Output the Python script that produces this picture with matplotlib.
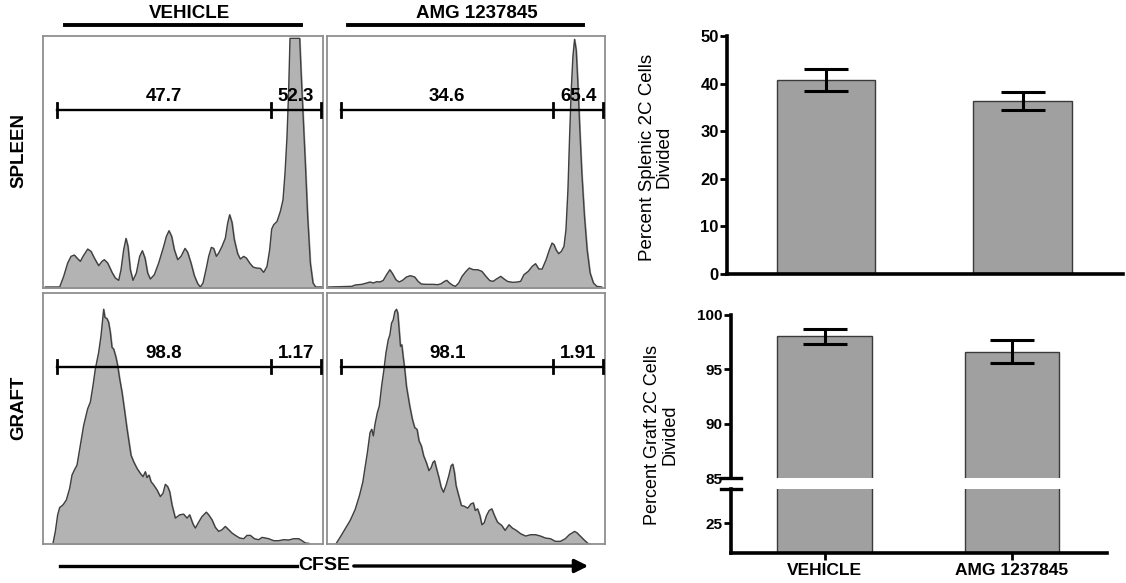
import matplotlib
matplotlib.use("Agg")
import matplotlib.pyplot as plt
from matplotlib.lines import Line2D
from matplotlib.patches import FancyArrowPatch
import numpy as np

plt.rcParams['font.family'] = ['Liberation Sans', 'DejaVu Sans']

# ---- CFSE histograms (x: CFSE channel, arbitrary units; y: cell count, arbitrary units)
spleen_veh_x = [7, 50, 62, 74, 84, 94, 102, 112, 120, 134, 144, 154, 167, 177, 184, 194, 207, 217, 227, 234,
                242, 249, 255, 262, 270, 280, 290, 298, 306, 314, 322, 334, 347, 362, 370, 378, 386, 394, 404,
                414, 426, 434, 444, 454, 464, 472, 480, 490, 497, 505, 512, 520, 527, 537, 547, 554, 560, 567,
                574, 584, 592, 602, 610, 620, 630, 640, 652, 662, 672, 680, 686, 692, 702, 712, 720, 726, 732,
                737, 741, 770, 774, 780, 787, 794, 802, 810, 818, 837]
spleen_veh_y = [3, 3, 35, 75, 95, 99, 90, 80, 95, 117, 110, 90, 67, 80, 85, 75, 47, 30, 23, 55,
                115, 149, 125, 55, 23, 45, 95, 112, 90, 45, 27, 40, 75, 125, 155, 172, 155, 115, 85,
                95, 119, 107, 75, 37, 13, 3, 15, 60, 95, 122, 119, 95, 105, 125, 150, 195, 220, 197,
                145, 103, 87, 95, 90, 75, 63, 60, 59, 47, 65, 115, 177, 190, 200, 230, 265, 345, 455,
                595, 750, 750, 655, 525, 375, 215, 75, 15, 3, 3]

spleen_amg_x = [5, 75, 85, 105, 120, 130, 140, 150, 160, 170, 180, 190, 198, 208, 218, 228, 240, 252, 265, 275,
                285, 300, 320, 335, 345, 355, 362, 370, 380, 388, 398, 408, 420, 430, 442, 455, 468, 480, 492,
                502, 512, 525, 535, 545, 560, 575, 585, 595, 608, 620, 630, 640, 650, 662, 672, 680, 686, 692,
                700, 708, 716, 722, 728, 733, 738, 743, 748, 753, 758, 764, 770, 778, 786, 795, 805, 815, 830]
spleen_amg_y = [3, 5, 9, 11, 15, 18, 15, 19, 18, 23, 40, 55, 43, 25, 18, 23, 33, 37, 33, 20,
                12, 11, 11, 10, 13, 20, 23, 15, 8, 5, 15, 35, 50, 60, 55, 55, 50, 35, 22,
                20, 27, 35, 27, 20, 17, 18, 20, 40, 50, 65, 73, 57, 57, 85, 115, 135, 130, 115,
                103, 110, 125, 175, 295, 455, 595, 695, 747, 715, 615, 475, 345, 215, 115, 45, 15, 5, 3]

graft_veh_x = [30, 37, 44, 50, 60, 70, 80, 87, 94, 102, 112, 122, 134, 142, 150, 157, 167, 174, 179, 182,
               186, 192, 197, 202, 207, 212, 219, 224, 230, 237, 244, 252, 258, 264, 272, 282, 292, 300, 307,
               312, 318, 324, 332, 342, 352, 360, 367, 374, 380, 387, 397, 410, 422, 432, 440, 450, 457, 467,
               477, 490, 497, 507, 517, 527, 537, 547, 557, 567, 577, 590, 602, 612, 622, 634, 647, 657, 667,
               677, 692, 707, 722, 737, 752, 767, 777, 787, 797]
graft_veh_y = [2, 38, 88, 110, 118, 133, 168, 208, 223, 238, 298, 358, 408, 428, 478, 528, 578, 628, 678, 708,
               683, 680, 668, 638, 593, 588, 563, 538, 498, 458, 408, 348, 308, 268, 248, 228, 213, 203, 218,
               200, 208, 188, 178, 163, 143, 153, 180, 173, 158, 118, 78, 88, 90, 78, 88, 60, 48, 66,
               83, 96, 88, 73, 50, 38, 43, 53, 43, 33, 26, 18, 16, 26, 26, 16, 13, 20, 18,
               16, 10, 10, 13, 12, 16, 16, 10, 3, 2]

graft_amg_x = [28, 40, 55, 70, 85, 98, 108, 115, 122, 130, 135, 140, 145, 152, 158, 165, 172, 178, 185, 190,
               195, 200, 205, 210, 214, 218, 222, 226, 230, 235, 240, 245, 250, 258, 265, 272, 278, 285, 292,
               300, 308, 315, 320, 325, 330, 338, 345, 352, 360, 368, 375, 380, 385, 390, 398, 406, 415, 425,
               435, 442, 448, 455, 462, 468, 475, 482, 490, 498, 505, 515, 528, 538, 550, 560, 572, 585, 600,
               615, 630, 645, 660, 675, 690, 705, 720, 732, 748, 755, 765, 775, 788, 795]
graft_amg_y = [2, 21, 46, 71, 104, 146, 186, 231, 276, 336, 346, 326, 361, 396, 416, 476, 526, 576, 616, 631,
               666, 676, 701, 708, 696, 646, 596, 601, 566, 526, 476, 446, 416, 376, 351, 346, 311, 296, 266,
               246, 221, 231, 246, 251, 231, 201, 171, 156, 178, 206, 236, 241, 216, 176, 146, 116, 114, 108,
               121, 124, 101, 106, 86, 58, 64, 86, 101, 106, 88, 66, 56, 41, 58, 48, 41, 31, 24,
               28, 28, 24, 18, 16, 8, 8, 16, 28, 38, 34, 24, 14, 2, 0]

# gates: [left, split, right] on the CFSE channel, and the percentages in each gate
gate_edges = [42, 684, 834]
gate_level = 535
spleen_pct = [['47.7', '52.3'], ['34.6', '65.4']]
graft_pct = [['98.8', '1.17'], ['98.1', '1.91']]

# ---- bar charts
groups = ['VEHICLE', 'AMG 1237845']
spleen_mean = [40.8, 36.3]
spleen_sem = [2.25, 1.9]
graft_mean = [98.03, 96.64]
graft_sem = [0.68, 1.1]

W, H = 1126, 583
fig = plt.figure(figsize=(W / 100, H / 100), dpi=100)


def box(x0, y0, x1, y1):
    # pixel box (top-left origin) -> figure fraction rect
    return [x0 / W, 1 - y1 / H, (x1 - x0) / W, (y1 - y0) / H]


def hist_panel(rect, xs, ys, pct):
    ax = fig.add_axes(rect)
    ax.fill_between(xs, ys, 0, color='#b3b3b3', zorder=1)
    ax.plot(xs, ys, color='#3f3f3f', lw=1.0, zorder=2)
    ax.set_xlim(0, 840)
    ax.set_ylim(0, 757)
    ax.set_xticks([])
    ax.set_yticks([])
    for s in ax.spines.values():
        s.set_color('#8f8f8f')
        s.set_linewidth(1.3)
    ax.plot([gate_edges[0], gate_edges[2]], [gate_level, gate_level], color='black', lw=1.7, zorder=3,
            clip_on=False)
    for gx in gate_edges:
        ax.plot([gx, gx], [gate_level - 20, gate_level + 20], color='black', lw=2.0, zorder=3, clip_on=False)
    ax.text((gate_edges[0] + gate_edges[1]) / 2, gate_level + 14, pct[0], ha='center', va='bottom',
            fontsize=13.5, fontweight='bold', zorder=4)
    ax.text((gate_edges[1] + gate_edges[2]) / 2, gate_level + 14, pct[1], ha='center', va='bottom',
            fontsize=13.5, fontweight='bold', zorder=4)
    return ax


hist_panel(box(43, 36, 323, 288), spleen_veh_x, spleen_veh_y, spleen_pct[0])
hist_panel(box(327, 36, 605, 288), spleen_amg_x, spleen_amg_y, spleen_pct[1])
hist_panel(box(43, 293, 323, 544), graft_veh_x, graft_veh_y, graft_pct[0])
hist_panel(box(327, 293, 605, 544), graft_amg_x, graft_amg_y, graft_pct[1])

# column headers with underline
fig.text(190 / W, 1 - 14 / H, 'VEHICLE', ha='center', va='center', fontsize=13.5, fontweight='bold')
fig.text(477 / W, 1 - 14 / H, 'AMG 1237845', ha='center', va='center', fontsize=13.5, fontweight='bold')
fig.add_artist(Line2D([65 / W, 301 / W], [1 - 25 / H] * 2, color='black', lw=2.8))
fig.add_artist(Line2D([348 / W, 583 / W], [1 - 25 / H] * 2, color='black', lw=2.8))

# row labels
fig.text(19 / W, 1 - 150 / H, 'SPLEEN', rotation=90, ha='center', va='center', fontsize=13.5, fontweight='bold')
fig.text(19 / W, 1 - 408 / H, 'GRAFT', rotation=90, ha='center', va='center', fontsize=13.5, fontweight='bold')

# CFSE arrow
fig.text(324 / W, 1 - 566 / H, 'CFSE', ha='center', va='center', fontsize=14, fontweight='bold')
fig.add_artist(Line2D([60 / W, 297 / W], [1 - 566 / H] * 2, color='black', lw=2.4))
fig.add_artist(FancyArrowPatch((351 / W, 1 - 566 / H), (591 / W, 1 - 566 / H),
                               transform=fig.transFigure, arrowstyle='-|>',
                               mutation_scale=20, lw=2.4, color='black'))

bar_kw = dict(color='#a0a0a0', edgecolor='#3a3a3a', linewidth=1.0, zorder=2)
err_kw = dict(fmt='none', ecolor='black', elinewidth=2.2, capsize=16, capthick=2.2, zorder=3)

# ---- spleen bar chart
ax1 = fig.add_axes(box(727, 36, 1123, 274))
xpos = np.arange(len(groups))
ax1.bar(xpos, spleen_mean, width=0.5, **bar_kw)
ax1.errorbar(xpos, spleen_mean, yerr=spleen_sem, **err_kw)
ax1.set_xlim(-0.504, 1.511)
ax1.set_ylim(0, 50)
ax1.set_yticks([0, 10, 20, 30, 40, 50])
ax1.set_xticks([])
for s in ['top', 'right']:
    ax1.spines[s].set_visible(False)
for s in ['left', 'bottom']:
    ax1.spines[s].set_linewidth(2.6)
ax1.tick_params(axis='y', length=5, width=2, pad=1, labelsize=12)
for lab in ax1.get_yticklabels():
    lab.set_fontweight('bold')
fig.text(656 / W, 1 - 157 / H, 'Percent Splenic 2C Cells\nDivided', rotation=90, ha='center', va='center',
         fontsize=13.5, linespacing=1.0, multialignment='center')

# ---- graft bar chart (broken axis)
ax2 = fig.add_axes(box(731, 315, 1107, 478))
ax3 = fig.add_axes(box(731, 489, 1107, 553))
for ax in (ax2, ax3):
    ax.bar(xpos, graft_mean, width=0.505, **bar_kw)
    ax.set_xlim(-0.499, 1.507)
    ax.spines['top'].set_visible(False)
    ax.spines['right'].set_visible(False)
    ax.spines['left'].set_linewidth(2.6)
    ax.spines['bottom'].set_linewidth(2.6)
    ax.tick_params(axis='y', length=5, width=2, pad=1, labelsize=11)
ax2.errorbar(xpos, graft_mean, yerr=graft_sem, **err_kw)
ax2.set_ylim(85, 100)
ax2.set_yticks([85, 90, 95, 100])
ax2.spines['bottom'].set_visible(False)
ax2.set_xticks([])
ax3.set_ylim(22.24, 28.13)
ax3.set_yticks([25])
ax3.set_xticks(xpos)
ax3.set_xticklabels(groups, fontsize=12.5, fontweight='bold')
ax3.tick_params(axis='x', length=5, width=2, pad=2)
for ax in (ax2, ax3):
    for lab in ax.get_yticklabels():
        lab.set_fontweight('bold')
# break caps on the y axis
ax2.plot([-0.027, 0.027], [0, 0], transform=ax2.transAxes, color='black', lw=2.4, clip_on=False)
ax3.plot([-0.027, 0.027], [1, 1], transform=ax3.transAxes, color='black', lw=2.4, clip_on=False)
fig.text(661 / W, 1 - 435 / H, 'Percent Graft 2C Cells\nDivided', rotation=90, ha='center', va='center',
         fontsize=13, linespacing=1.0, multialignment='center')

fig.savefig('out.png', dpi=100)
